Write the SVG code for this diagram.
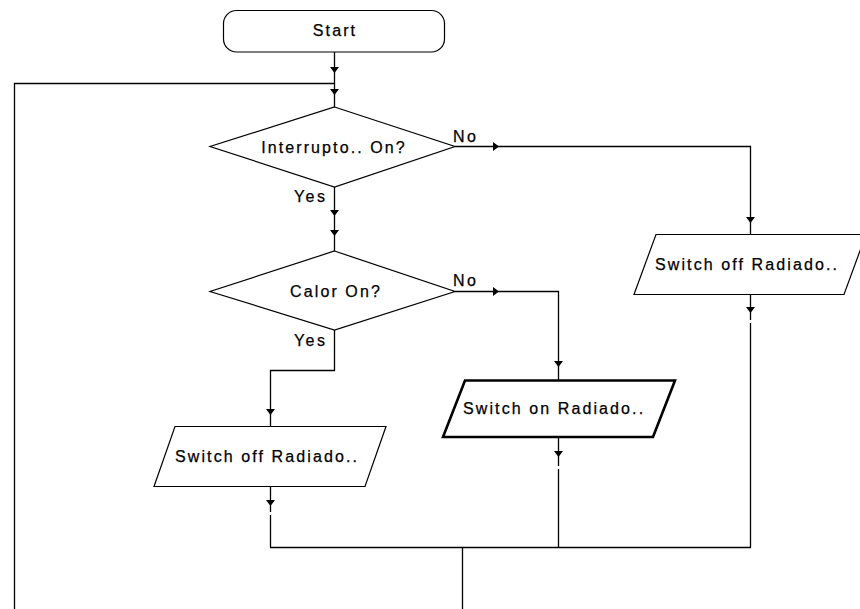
<svg xmlns="http://www.w3.org/2000/svg" xmlns:xlink="http://www.w3.org/1999/xlink" width="860" height="609" viewBox="0 0 860 609">
  <style>
    .shape { fill: #ffffff; stroke: #000000; stroke-width: 1.2; }
    .bold { stroke-width: 2.6; }
    .wire { fill: none; stroke: #000000; stroke-width: 1.3; }
    .label { font-family: "Liberation Sans", Arial, sans-serif; font-size: 16px; letter-spacing: 2.1px; fill: #000000; stroke: #000000; stroke-width: 0.25; }
    .mid { text-anchor: middle; }
    .tag { font-family: "Liberation Sans", Arial, sans-serif; font-size: 16px; letter-spacing: 2.4px; fill: #000000; stroke: #000000; stroke-width: 0.25; }
  </style>
  <defs>
    <!-- small flat-topped arrowhead, tip at origin, pointing down -->
    <path id="ah" d="M -4.5 -5 L 4.5 -5 L 0 1 Z" fill="#000000"/>
  </defs>

  <rect width="860" height="609" fill="#ffffff"/>

  <!-- connectors -->
  <g id="connectors">
    <!-- Start to first decision, with the loop-back joining in -->
    <path class="wire" d="M 334.5 52 L 334.5 107"/>
    <path class="wire" d="M 14.5 609 L 14.5 83.5 L 334.5 83.5"/>
    <use xlink:href="#ah" x="334.5" y="72"/>
    <use xlink:href="#ah" x="334.5" y="94"/>

    <!-- first decision: Yes -->
    <path class="wire" d="M 334.5 187 L 334.5 251"/>
    <use xlink:href="#ah" x="334.5" y="215"/>
    <use xlink:href="#ah" x="334.5" y="235"/>

    <!-- first decision: No -->
    <path class="wire" d="M 455 146.5 L 750.5 146.5 L 750.5 234"/>
    <use xlink:href="#ah" transform="translate(498 146.5) rotate(-90)"/>
    <use xlink:href="#ah" x="750.5" y="222"/>

    <!-- second decision: No -->
    <path class="wire" d="M 455 291.5 L 558.5 291.5 L 558.5 380"/>
    <use xlink:href="#ah" transform="translate(498 291.5) rotate(-90)"/>
    <use xlink:href="#ah" x="558.5" y="366"/>

    <!-- second decision: Yes -->
    <path class="wire" d="M 334.5 330 L 334.5 370.5 L 270.5 370.5 L 270.5 426"/>
    <use xlink:href="#ah" x="270.5" y="414"/>

    <!-- outputs down to the merge line -->
    <path class="wire" d="M 270.5 486 L 270.5 512 M 270.5 515 L 270.5 547.5"/>
    <use xlink:href="#ah" x="270.5" y="505"/>
    <path class="wire" d="M 558.5 437 L 558.5 466 M 558.5 469 L 558.5 547.5"/>
    <use xlink:href="#ah" x="558.5" y="456"/>
    <path class="wire" d="M 750.5 294 L 750.5 320 M 750.5 323 L 750.5 547.5"/>
    <use xlink:href="#ah" x="750.5" y="312"/>

    <!-- merge line and exit -->
    <path class="wire" d="M 270 547.5 L 751 547.5"/>
    <path class="wire" d="M 462.5 547.5 L 462.5 609"/>
  </g>

  <!-- nodes -->
  <g id="start">
    <rect class="shape" x="223.5" y="10.5" width="221" height="41.5" rx="13" ry="13"/>
    <text class="label mid" x="335" y="36">Start</text>
  </g>

  <g id="decision-interruptor">
    <polygon class="shape" points="334.5,107 455,146.5 334.5,187 210,146.5"/>
    <text class="label mid" x="334" y="153">Interrupto.. On?</text>
    <text class="tag" x="453" y="142">No</text>
    <text class="tag" x="294" y="202">Yes</text>
  </g>

  <g id="decision-calor">
    <polygon class="shape" points="334.5,251 455,291.5 334.5,330 210,291.5"/>
    <text class="label mid" x="336" y="297">Calor On?</text>
    <text class="tag" x="453" y="286">No</text>
    <text class="tag" x="294" y="346">Yes</text>
  </g>

  <g id="switch-off-right">
    <polygon class="shape" points="656,234.5 866,234.5 844,294.5 634,294.5"/>
    <text class="label" x="655" y="270">Switch off Radiado..</text>
  </g>

  <g id="switch-on">
    <polygon class="shape bold" points="465,380.5 675,380.5 653,437 443,437"/>
    <text class="label" x="463" y="414">Switch on Radiado..</text>
  </g>

  <g id="switch-off-left">
    <polygon class="shape" points="175,426.5 386,426.5 365,486.5 154,486.5"/>
    <text class="label" x="175" y="462">Switch off Radiado..</text>
  </g>
</svg>
